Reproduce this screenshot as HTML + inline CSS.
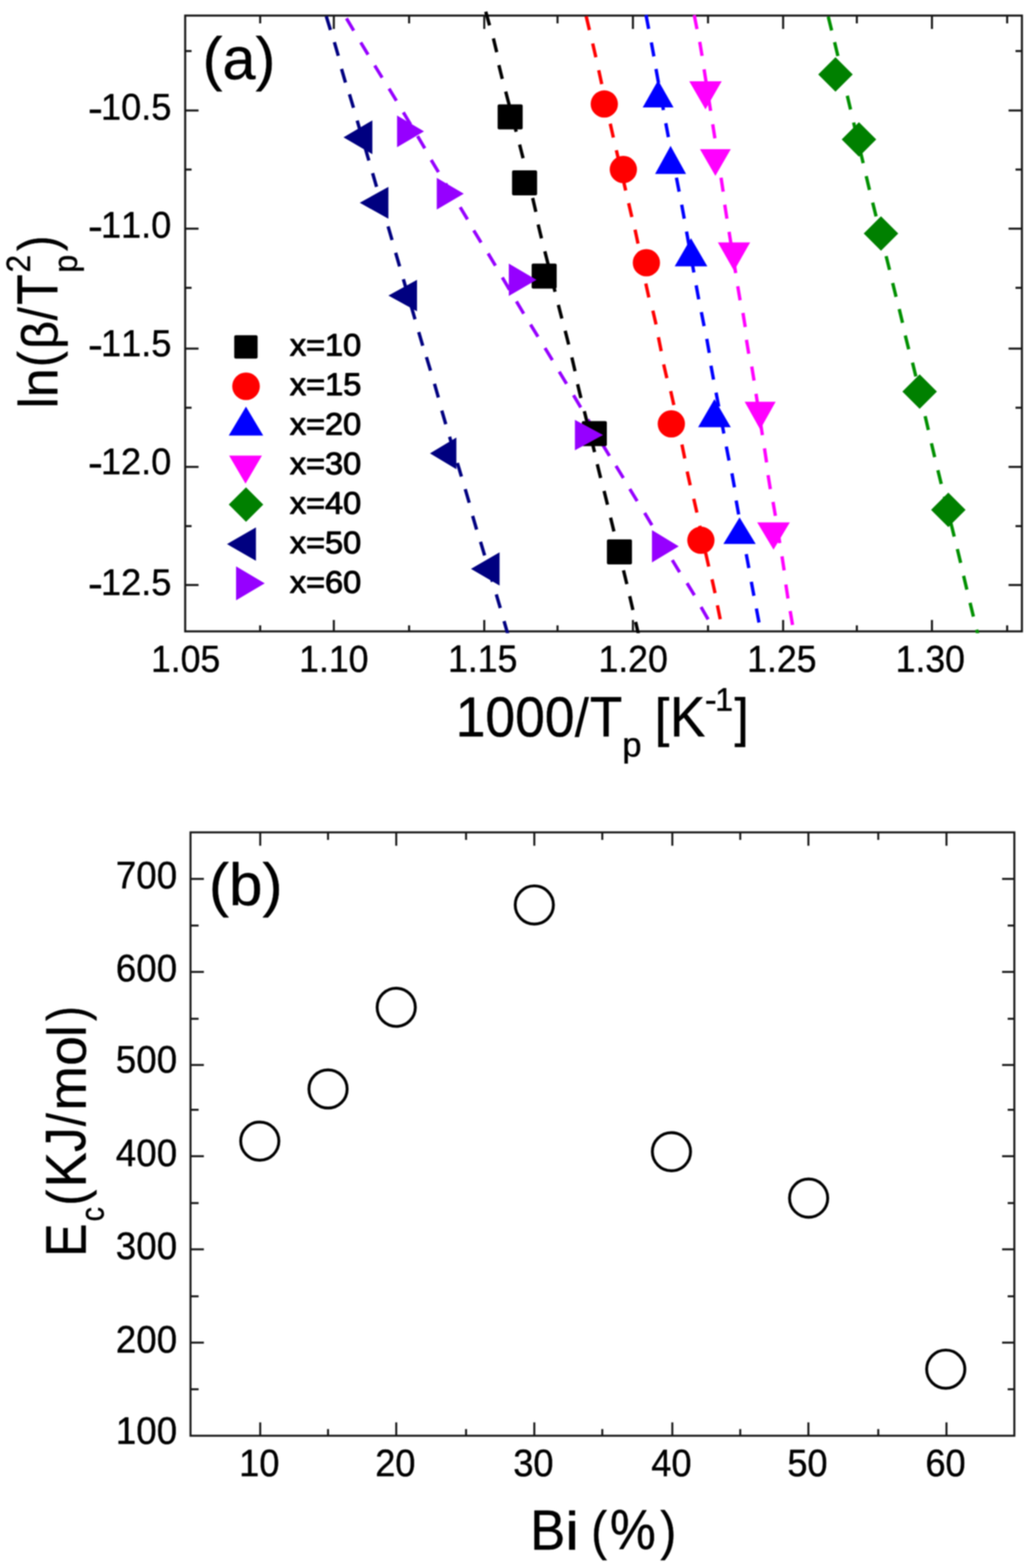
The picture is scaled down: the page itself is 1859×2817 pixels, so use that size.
<!DOCTYPE html>
<html lang="en">
<head>
<meta charset="utf-8">
<title>Kissinger plot and crystallization activation energy</title>
<style>
html,body{margin:0;padding:0;background:#fff;}
body{width:1859px;height:2817px;overflow:hidden;}
svg{display:block;}
svg text{font-family:"Liberation Sans", sans-serif;fill:#000;stroke:#000;stroke-width:0.7px;stroke-linejoin:round;font-kerning:none;text-rendering:geometricPrecision;white-space:pre;}
svg text.lg{stroke-width:1.7px;}
</style>
</head>
<body>
<svg width="1859" height="2817" viewBox="0 0 1859 2817">
<defs><filter id="soft" x="0" y="0" width="1859" height="2817" filterUnits="userSpaceOnUse" color-interpolation-filters="sRGB"><feGaussianBlur stdDeviation="0.9"/></filter></defs>
<rect x="0" y="0" width="1859" height="2817" fill="#fff"/>
<g id="chart-a" filter="url(#soft)">
<rect x="332.6" y="28.0" width="1502.9" height="1106.3" fill="none" stroke="#161616" stroke-width="3.7"/>
<line x1="599.6" y1="28" x2="599.6" y2="52" stroke="#161616" stroke-width="3.7"/>
<line x1="599.6" y1="1134.3" x2="599.6" y2="1113.8" stroke="#161616" stroke-width="3.7"/>
<line x1="869.8" y1="28" x2="869.8" y2="52" stroke="#161616" stroke-width="3.7"/>
<line x1="869.8" y1="1134.3" x2="869.8" y2="1113.8" stroke="#161616" stroke-width="3.7"/>
<line x1="1136.8" y1="28" x2="1136.8" y2="52" stroke="#161616" stroke-width="3.7"/>
<line x1="1136.8" y1="1134.3" x2="1136.8" y2="1113.8" stroke="#161616" stroke-width="3.7"/>
<line x1="1406.6" y1="28" x2="1406.6" y2="52" stroke="#161616" stroke-width="3.7"/>
<line x1="1406.6" y1="1134.3" x2="1406.6" y2="1113.8" stroke="#161616" stroke-width="3.7"/>
<line x1="1673.9" y1="28" x2="1673.9" y2="52" stroke="#161616" stroke-width="3.7"/>
<line x1="1673.9" y1="1134.3" x2="1673.9" y2="1113.8" stroke="#161616" stroke-width="3.7"/>
<line x1="467.3" y1="28" x2="467.3" y2="42" stroke="#161616" stroke-width="3.7"/>
<line x1="467.3" y1="1134.3" x2="467.3" y2="1123.5" stroke="#161616" stroke-width="3.7"/>
<line x1="734.8" y1="28" x2="734.8" y2="42" stroke="#161616" stroke-width="3.7"/>
<line x1="734.8" y1="1134.3" x2="734.8" y2="1123.5" stroke="#161616" stroke-width="3.7"/>
<line x1="1001.4" y1="28" x2="1001.4" y2="42" stroke="#161616" stroke-width="3.7"/>
<line x1="1001.4" y1="1134.3" x2="1001.4" y2="1123.5" stroke="#161616" stroke-width="3.7"/>
<line x1="1271.7" y1="28" x2="1271.7" y2="42" stroke="#161616" stroke-width="3.7"/>
<line x1="1271.7" y1="1134.3" x2="1271.7" y2="1123.5" stroke="#161616" stroke-width="3.7"/>
<line x1="1539" y1="28" x2="1539" y2="42" stroke="#161616" stroke-width="3.7"/>
<line x1="1539" y1="1134.3" x2="1539" y2="1123.5" stroke="#161616" stroke-width="3.7"/>
<line x1="1809" y1="28" x2="1809" y2="42" stroke="#161616" stroke-width="3.7"/>
<line x1="1809" y1="1134.3" x2="1809" y2="1123.5" stroke="#161616" stroke-width="3.7"/>
<line x1="332.6" y1="198.5" x2="356.6" y2="198.5" stroke="#161616" stroke-width="3.7"/>
<line x1="1835.5" y1="198.5" x2="1811.5" y2="198.5" stroke="#161616" stroke-width="3.7"/>
<line x1="332.6" y1="410.8" x2="356.6" y2="410.8" stroke="#161616" stroke-width="3.7"/>
<line x1="1835.5" y1="410.8" x2="1811.5" y2="410.8" stroke="#161616" stroke-width="3.7"/>
<line x1="332.6" y1="626.3" x2="356.6" y2="626.3" stroke="#161616" stroke-width="3.7"/>
<line x1="1835.5" y1="626.3" x2="1811.5" y2="626.3" stroke="#161616" stroke-width="3.7"/>
<line x1="332.6" y1="838.8" x2="356.6" y2="838.8" stroke="#161616" stroke-width="3.7"/>
<line x1="1835.5" y1="838.8" x2="1811.5" y2="838.8" stroke="#161616" stroke-width="3.7"/>
<line x1="332.6" y1="1051" x2="356.6" y2="1051" stroke="#161616" stroke-width="3.7"/>
<line x1="1835.5" y1="1051" x2="1811.5" y2="1051" stroke="#161616" stroke-width="3.7"/>
<line x1="332.6" y1="91.7" x2="344.1" y2="91.7" stroke="#161616" stroke-width="3.7"/>
<line x1="1835.5" y1="91.7" x2="1824" y2="91.7" stroke="#161616" stroke-width="3.7"/>
<line x1="332.6" y1="304.6" x2="344.1" y2="304.6" stroke="#161616" stroke-width="3.7"/>
<line x1="1835.5" y1="304.6" x2="1824" y2="304.6" stroke="#161616" stroke-width="3.7"/>
<line x1="332.6" y1="517.1" x2="344.1" y2="517.1" stroke="#161616" stroke-width="3.7"/>
<line x1="1835.5" y1="517.1" x2="1824" y2="517.1" stroke="#161616" stroke-width="3.7"/>
<line x1="332.6" y1="732.5" x2="344.1" y2="732.5" stroke="#161616" stroke-width="3.7"/>
<line x1="1835.5" y1="732.5" x2="1824" y2="732.5" stroke="#161616" stroke-width="3.7"/>
<line x1="332.6" y1="945.2" x2="344.1" y2="945.2" stroke="#161616" stroke-width="3.7"/>
<line x1="1835.5" y1="945.2" x2="1824" y2="945.2" stroke="#161616" stroke-width="3.7"/>
<text><tspan x="158.08" y="220.36" font-size="75.52" textLength="26.73" lengthAdjust="spacingAndGlyphs">-</tspan><tspan x="181.37" y="215" font-size="66.81" textLength="126.51" lengthAdjust="spacingAndGlyphs">10.5</tspan></text>
<text><tspan x="158.08" y="432.36" font-size="75.52" textLength="26.73" lengthAdjust="spacingAndGlyphs">-</tspan><tspan x="181.18" y="427" font-size="66.81" textLength="126.51" lengthAdjust="spacingAndGlyphs">11.0</tspan></text>
<text><tspan x="158.08" y="645.06" font-size="75.52" textLength="26.73" lengthAdjust="spacingAndGlyphs">-</tspan><tspan x="181.37" y="639.69" font-size="67.79" textLength="126.51" lengthAdjust="spacingAndGlyphs">11.5</tspan></text>
<text><tspan x="158.08" y="857.06" font-size="75.52" textLength="26.73" lengthAdjust="spacingAndGlyphs">-</tspan><tspan x="181.18" y="851.7" font-size="66.81" textLength="126.51" lengthAdjust="spacingAndGlyphs">12.0</tspan></text>
<text><tspan x="158.08" y="1073.86" font-size="75.52" textLength="26.73" lengthAdjust="spacingAndGlyphs">-</tspan><tspan x="181.37" y="1068.5" font-size="66.81" textLength="126.51" lengthAdjust="spacingAndGlyphs">12.5</tspan></text>
<text><tspan x="271.13" y="1206.59" font-size="67.65" textLength="124.61" lengthAdjust="spacingAndGlyphs">1.05</tspan></text>
<text><tspan x="537.34" y="1206.59" font-size="67.65" textLength="124.61" lengthAdjust="spacingAndGlyphs">1.10</tspan></text>
<text><tspan x="804.73" y="1206.58" font-size="68.65" textLength="124.61" lengthAdjust="spacingAndGlyphs">1.15</tspan></text>
<text><tspan x="1074.94" y="1206.59" font-size="67.65" textLength="124.61" lengthAdjust="spacingAndGlyphs">1.20</tspan></text>
<text><tspan x="1342.03" y="1206.59" font-size="67.65" textLength="124.61" lengthAdjust="spacingAndGlyphs">1.25</tspan></text>
<text><tspan x="1608.64" y="1206.59" font-size="67.65" textLength="124.61" lengthAdjust="spacingAndGlyphs">1.30</tspan></text>
<text><tspan x="363.92" y="142.04" font-size="106.8" textLength="130.66" lengthAdjust="spacingAndGlyphs">(a)</tspan></text>
<text><tspan x="818.44" y="1322.66" font-size="101.55" textLength="213.56" lengthAdjust="spacingAndGlyphs">1000</tspan><tspan x="1032.45" y="1322.5" font-size="97.63" textLength="25.1" lengthAdjust="spacingAndGlyphs">/</tspan><tspan x="1059.6" y="1322.95" font-size="102.47" textLength="58.34" lengthAdjust="spacingAndGlyphs">T</tspan><tspan x="1117.75" y="1358.72" font-size="61.33" textLength="34.5" lengthAdjust="spacingAndGlyphs">p</tspan><tspan> </tspan><tspan x="1175.63" y="1322.18" font-size="96.23" textLength="26.56" lengthAdjust="spacingAndGlyphs">[</tspan><tspan x="1203.23" y="1322.95" font-size="102.47" textLength="63.59" lengthAdjust="spacingAndGlyphs">K</tspan><tspan x="1266.09" y="1278.3" font-size="61" textLength="21.41" lengthAdjust="spacingAndGlyphs">-</tspan><tspan x="1284.44" y="1276.95" font-size="59.01" textLength="32.23" lengthAdjust="spacingAndGlyphs">1</tspan><tspan x="1319.23" y="1322.18" font-size="96.23" textLength="25.58" lengthAdjust="spacingAndGlyphs">]</tspan></text>
<text transform="rotate(-90)"><tspan x="-733.71" y="102.65" font-size="98.4" textLength="19.97" lengthAdjust="spacingAndGlyphs">l</tspan><tspan x="-713.42" y="102.65" font-size="95.71" textLength="51.71" lengthAdjust="spacingAndGlyphs">n</tspan><tspan x="-659.48" y="101.43" font-size="97.68" textLength="28.64" lengthAdjust="spacingAndGlyphs">(</tspan><tspan x="-626.95" y="102.88" font-size="90.44" textLength="50.57" lengthAdjust="spacingAndGlyphs">β</tspan><tspan x="-575.45" y="102.2" font-size="97.77" textLength="23.6" lengthAdjust="spacingAndGlyphs">/</tspan><tspan x="-547.87" y="102.65" font-size="103.64" textLength="54.88" lengthAdjust="spacingAndGlyphs">T</tspan><tspan x="-490.11" y="137.97" font-size="60.12" textLength="32.4" lengthAdjust="spacingAndGlyphs">p</tspan><tspan x="-489.6" y="54.15" font-size="60.72" textLength="31.5" lengthAdjust="spacingAndGlyphs">2</tspan><tspan x="-450.94" y="101.43" font-size="97.68" textLength="27.76" lengthAdjust="spacingAndGlyphs">)</tspan></text>
<clipPath id="ca"><rect x="320" y="19.5" width="1530" height="1118"/></clipPath>
<g clip-path="url(#ca)" fill="none" stroke-width="6" stroke-linecap="butt">
<path stroke="#000080" d="M586.04 29.42L593.56 53.78 M600.57 75.75L607.63 100.25 M613.44 123.86L620.56 148.34 M627.66 169.28L634.94 193.72 M669.23 311.16L676.37 335.64 M697.05 406.75L704.15 431.25 M710.65 454.06L717.75 478.54 M752.09 596.67L759.31 621.13 M765.9 641.5L773.3 665.9 M780.4 689.54L787.4 714.06 M793.52 737.66L800.68 762.14 M835.62 878.76L842.78 903.24 M848.93 926.86L856.07 951.34 M863.12 973.39L870.48 997.81 M891.39 1067.87L898.61 1092.33 M905.36 1115.95L912.44 1140.45 M641.55 216.56L643.34 222.68L645.13 228.8L646.92 234.92L648.71 241.04 M655.39 263.86L657.18 269.98L658.97 276.1L660.76 282.22L662.55 288.34 M683.14 358.96L684.92 365.08L686.7 371.2L688.48 377.32L690.26 383.44 M724.47 501.59L726.25 507.71L728.03 513.83L729.81 519.95L731.6 526.08 M738.3 549.12L740.09 555.25L741.87 561.37L743.65 567.49L745.43 573.61 M807.49 784.72L809.31 790.82L811.13 796.93L812.96 803.04L814.78 809.15 M821.52 831.75L823.34 837.86L825.17 843.97L826.99 850.08L828.81 856.18 M877.25 1020.63L879.08 1026.74L880.9 1032.85L882.72 1038.96L884.55 1045.07"/>
<path stroke="#9600ff" d="M622.28 33.04L635.32 54.96 M647.93 76.27L661.07 98.13 M673.03 117.73L686.37 139.47 M698.8 159.19L712 181.01 M750.02 244.52L762.98 266.48 M774.44 287.37L787.56 309.23 M826.51 372.29L839.69 394.11 M850.91 413.99L864.09 435.81 M876.74 455.37L889.86 477.23 M927.56 541.55L940.64 563.45 M952.92 583.14L966.28 604.86 M978.88 625.2L992.12 647 M1004.43 667.68L1017.57 689.52 M1030.08 710.04L1043.12 731.96 M1081.52 797.18L1094.68 819.02 M1106.35 837.02L1119.65 858.78 M1131.18 878.5L1144.42 900.3 M1157.86 921.55L1170.94 943.45 M1207.5 1006.19L1220.7 1028.01 M1233.97 1047.61L1247.23 1069.39 M1259.12 1090.56L1271.88 1112.64 M724.4 201.86L727.68 207.33L730.95 212.8L734.22 218.27L737.5 223.74 M800.38 329.88L803.72 335.32L807.05 340.75L810.38 346.18L813.72 351.62 M902.23 498.42L905.46 503.91L908.7 509.4L911.94 514.89L915.17 520.38 M1055.86 753.57L1059.11 759.06L1062.35 764.55L1065.59 770.04L1068.84 775.53 M1182.79 963.81L1186.02 969.3L1189.25 974.8L1192.48 980.3L1195.71 985.79"/>
<path stroke="#000000" d="M872.5 21.01L879.3 45.59 M886.21 69.01L892.19 93.79 M896.04 117.02L902.16 141.78 M933.27 259.64L939.53 284.36 M956.73 355.78L962.47 380.62 M966.6 403.41L972.6 428.19 M1002.85 547.65L1009.15 572.35 M1015.16 594.24L1021.44 618.96 M1027.14 642.07L1032.86 666.93 M1037.42 690.2L1043.38 715 M1061.85 787.42L1067.95 812.18 M1072.76 833.92L1078.84 858.68 M1085.02 882.03L1091.18 906.77 M1096.68 930.01L1102.72 954.79 M1119.89 1024.61L1125.91 1049.39 M1131.01 1070.98L1136.79 1095.82 M1141.66 1117.37L1147.34 1142.23 M908.31 164.6L909.92 170.77L911.53 176.93L913.15 183.1L914.76 189.27 M920.74 212.13L922.35 218.3L923.97 224.47L925.58 230.63L927.19 236.8 M945.01 307.71L946.51 313.9L948 320.1L949.49 326.3L950.99 332.49 M978.61 451.5L980.17 457.69L981.73 463.87L983.29 470.05L984.85 476.23 M990.75 499.57L992.31 505.75L993.87 511.93L995.43 518.11L996.99 524.3 M1049.53 738.84L1051.09 745.02L1052.65 751.2L1054.21 757.38L1055.77 763.56 M1108.26 977.32L1109.78 983.51L1111.3 989.7L1112.82 995.89L1114.34 1002.08"/>
<path stroke="#ff0000" d="M1052.86 29.19L1058.74 54.01 M1064.54 78.07L1070.26 102.93 M1075.38 126.14L1080.82 151.06 M1096.09 222.26L1101.71 247.14 M1129.11 364.98L1134.89 389.82 M1140.65 412.73L1145.95 437.67 M1159.94 509.45L1165.46 534.35 M1172.62 558.08L1178.38 582.92 M1182.59 605.9L1187.61 630.9 M1192.02 654.58L1197.78 679.42 M1204.69 702.66L1210.31 727.54 M1224.85 798.61L1229.95 823.59 M1234.25 847.05L1239.75 871.95 M1246.07 896.07L1251.73 920.93 M1267.39 993.06L1273.01 1017.94 M1278.85 1040.75L1284.35 1065.65 M1288.56 1087.5L1293.64 1112.5 M1085.8 174.19L1087.15 180.42L1088.5 186.65L1089.85 192.88L1091.2 199.11 M1107.05 269.85L1108.49 276.06L1109.93 282.27L1111.37 288.48L1112.81 294.69 M1118.09 317.41L1119.53 323.62L1120.97 329.83L1122.41 336.04L1123.85 342.25 M1150.49 461.05L1151.75 467.3L1153 473.55L1154.25 479.8L1155.51 486.05 M1214.86 750.62L1216.16 756.86L1217.45 763.1L1218.74 769.34L1220.04 775.58 M1256.82 944.55L1258.18 950.77L1259.55 957L1260.92 963.23L1262.28 969.45"/>
<path stroke="#0000ff" d="M1160.29 26.88L1165.11 51.92 M1169.9 76.26L1174.5 101.34 M1178.25 123.85L1182.75 148.95 M1195.83 221.37L1200.57 246.43 M1214.96 319.28L1219.84 344.32 M1224.41 367.76L1228.99 392.84 M1250.39 512.66L1255.01 537.74 M1259.73 560.79L1264.67 585.81 M1269.47 608.85L1273.93 633.95 M1277.01 656.96L1281.59 682.04 M1304.57 802.28L1309.43 827.32 M1314.64 850.35L1319.16 875.45 M1322.27 899.25L1326.73 924.35 M1340.36 995.47L1345.04 1020.53 M1349.47 1045.27L1354.13 1070.33 M1358.53 1093.27L1363.27 1118.33 M1187.07 172.61L1188.21 178.88L1189.35 185.15L1190.49 191.42L1191.63 197.69 M1205.35 270.34L1206.57 276.59L1207.8 282.85L1209.03 289.11L1210.25 295.36 M1233.11 416.05L1234.24 422.33L1235.37 428.6L1236.49 434.87L1237.62 441.15 M1241.78 464.35L1242.91 470.63L1244.03 476.9L1245.16 483.17L1246.29 489.45 M1286.15 705.41L1287.34 711.67L1288.53 717.93L1289.73 724.2L1290.92 730.46 M1295.38 753.84L1296.57 760.1L1297.77 766.37L1298.96 772.63L1300.15 778.89 M1331.23 947.37L1332.41 953.64L1333.6 959.9L1334.79 966.16L1335.97 972.43"/>
<path stroke="#ff00ff" d="M1246.93 27.19L1251.87 52.21 M1256.8 75.22L1261 100.38 M1280.13 223.3L1284.07 248.5 M1295.11 319.19L1298.89 344.41 M1301.75 367.7L1305.65 392.9 M1325.08 514.33L1329.32 539.47 M1334.46 562.31L1338.54 587.49 M1340.73 610.42L1344.87 635.58 M1350.22 658.52L1354.38 683.68 M1373.11 805.49L1376.89 830.71 M1379.56 853.61L1383.64 878.79 M1388.46 901.73L1392.74 926.87 M1404.56 999.5L1408.44 1024.7 M1411.49 1050.09L1415.31 1075.31 M1419.29 1097.73L1423.51 1122.87 M1264.66 124.57L1265.65 130.87L1266.63 137.17L1267.62 143.46L1268.61 149.76 M1272.39 173.94L1273.38 180.24L1274.37 186.53L1275.35 192.83L1276.34 199.13 M1287.59 271.25L1288.57 277.55L1289.55 283.85L1290.53 290.15L1291.51 296.45 M1309.52 416.58L1310.52 422.87L1311.53 429.17L1312.54 435.46L1313.55 441.76 M1317.35 465.44L1318.36 471.74L1319.37 478.03L1320.38 484.33L1321.38 490.62 M1357.92 707.5L1358.89 713.8L1359.87 720.1L1360.84 726.4L1361.81 732.7 M1365.49 756.5L1366.46 762.8L1367.43 769.1L1368.41 775.4L1369.38 781.7 M1396.5 950.62L1397.53 956.91L1398.55 963.2L1399.57 969.49L1400.6 975.78"/>
<path stroke="#009000" d="M1487.65 29.92L1493.75 54.68 M1499.02 75.8L1504.98 100.6 M1521.87 171.99L1527.73 196.81 M1555.85 316.4L1561.75 341.2 M1567.41 364.03L1573.59 388.77 M1591.62 460.13L1597.78 484.87 M1603.35 508.42L1609.45 533.18 M1615.12 555.2L1621.08 580 M1626.03 602.83L1632.17 627.57 M1638.97 651.52L1645.03 676.28 M1661.7 747.69L1667.5 772.51 M1672.96 796.39L1678.84 821.21 M1684.56 844.72L1690.64 869.48 M1719.49 986.41L1725.51 1011.19 M1730.76 1034.49L1736.64 1059.31 M1742.39 1083.01L1748.41 1107.79 M1754.17 1131.22L1760.23 1155.98 M1506.97 124.77L1507.83 131.09L1508.95 137.34L1510.99 143.38L1513.02 149.42 M1533.21 220.12L1534.67 226.33L1536.13 232.53L1537.59 238.74L1539.06 244.94 M1544.54 268.26L1546.01 274.46L1547.47 280.67L1548.93 286.87L1550.39 293.08 M1579.49 412.09L1581.04 418.27L1582.6 424.45L1584.16 430.63L1585.71 436.81 M1650.38 699.59L1651.84 705.79L1653.3 712L1654.76 718.21L1656.22 724.41 M1696.18 891.95L1697.71 898.14L1699.23 904.33L1700.76 910.52L1702.28 916.71 M1707.82 939.19L1709.34 945.38L1710.87 951.57L1712.39 957.76L1713.92 963.95"/>
</g>
<rect x="893.8" y="187.4" width="45" height="45" rx="3" fill="#000"/>
<rect x="919.7" y="305.9" width="45" height="45" rx="3" fill="#000"/>
<rect x="954.9" y="473.5" width="45" height="45" rx="3" fill="#000"/>
<rect x="1045" y="756.5" width="45" height="45" rx="3" fill="#000"/>
<rect x="1090.1" y="968.9" width="45" height="45" rx="3" fill="#000"/>
<circle cx="1085.4" cy="186.8" r="24.5" fill="#f00"/>
<circle cx="1119.6" cy="304.5" r="24.5" fill="#f00"/>
<circle cx="1161" cy="472" r="24.5" fill="#f00"/>
<circle cx="1205.8" cy="761.5" r="24.5" fill="#f00"/>
<circle cx="1258.9" cy="970.6" r="24.5" fill="#f00"/>
<polygon points="1154.4,193.1 1209.8,193.1 1182.1,144.3" fill="#00f"/>
<polygon points="1176.6,312.5 1232.3,312.5 1204.45,262.1" fill="#00f"/>
<polygon points="1211.8,478.6 1270.5,478.6 1241.15,428" fill="#00f"/>
<polygon points="1253.9,767.5 1312.6,767.5 1283.25,717" fill="#00f"/>
<polygon points="1299.3,977.3 1357.4,977.3 1328.35,929.5" fill="#00f"/>
<polygon points="1238,146 1296.3,146 1267.15,196.5" fill="#f0f"/>
<polygon points="1257.2,268 1312.6,268 1284.9,316" fill="#f0f"/>
<polygon points="1289.4,435.5 1347.4,435.5 1318.4,486.5" fill="#f0f"/>
<polygon points="1337.5,721.7 1393.2,721.7 1365.35,771.5" fill="#f0f"/>
<polygon points="1360,938.5 1418.7,938.5 1389.35,987.5" fill="#f0f"/>
<polygon points="1469.6,133.7 1500.6,102.7 1531.6,133.7 1500.6,164.7" fill="#008000"/>
<polygon points="1511.8,250.6 1542.8,219.6 1573.8,250.6 1542.8,281.6" fill="#008000"/>
<polygon points="1551.4,419.5 1582.4,388.5 1613.4,419.5 1582.4,450.5" fill="#008000"/>
<polygon points="1620.8,703.5 1651.8,672.5 1682.8,703.5 1651.8,734.5" fill="#008000"/>
<polygon points="1672.3,916 1703.3,885 1734.3,916 1703.3,947" fill="#008000"/>
<polygon points="668.8,216.3 668.8,277 617,246.65" fill="#000080"/>
<polygon points="697.6,335.7 697.6,393 646.2,364.35" fill="#000080"/>
<polygon points="749,502.8 749,559.2 697.6,531" fill="#000080"/>
<polygon points="819.7,785.9 819.7,843 772.3,814.45" fill="#000080"/>
<polygon points="897.3,992.2 897.3,1051.9 845.9,1022.05" fill="#000080"/>
<polygon points="713.2,207.4 713.2,264.4 761.6,235.9" fill="#9600ff"/>
<polygon points="784.5,319.5 784.5,376.5 833,348" fill="#9600ff"/>
<polygon points="913.9,473.6 913.9,531.7 963.6,502.65" fill="#9600ff"/>
<polygon points="1032.6,754.2 1032.6,809 1083.1,781.6" fill="#9600ff"/>
<polygon points="1171,952.4 1171,1010.4 1219.1,981.4" fill="#9600ff"/>
<rect x="420.7" y="602.2" width="42" height="42" rx="3" fill="#000"/>
<circle cx="441.9" cy="694" r="24.8" fill="#f00"/>
<polygon points="410.8,782.6 472.8,782.6 441.8,730.6" fill="#00f"/>
<polygon points="411.5,818.6 470.5,818.6 441,869.1" fill="#f0f"/>
<polygon points="410.9,906.4 441.9,875.4 472.9,906.4 441.9,937.4" fill="#008000"/>
<polygon points="459.7,947.5 459.7,1007.5 407.7,977.5" fill="#000080"/>
<polygon points="424,1017.5 424,1078.5 475.5,1048" fill="#9600ff"/>
<text class="lg"><tspan x="520.49" y="639.3" font-size="56.07" textLength="128.34" lengthAdjust="spacingAndGlyphs">x=10</tspan></text>
<text class="lg"><tspan x="520.49" y="710.19" font-size="56.9" textLength="128.51" lengthAdjust="spacingAndGlyphs">x=15</tspan></text>
<text class="lg"><tspan x="520.49" y="781.1" font-size="56.07" textLength="128.34" lengthAdjust="spacingAndGlyphs">x=20</tspan></text>
<text class="lg"><tspan x="520.49" y="852" font-size="56.07" textLength="128.34" lengthAdjust="spacingAndGlyphs">x=30</tspan></text>
<text class="lg"><tspan x="520.49" y="922.9" font-size="56.07" textLength="128.34" lengthAdjust="spacingAndGlyphs">x=40</tspan></text>
<text class="lg"><tspan x="520.49" y="993.8" font-size="56.07" textLength="128.34" lengthAdjust="spacingAndGlyphs">x=50</tspan></text>
<text class="lg"><tspan x="520.49" y="1064.7" font-size="56.07" textLength="128.34" lengthAdjust="spacingAndGlyphs">x=60</tspan></text>
</g>
<g id="chart-b" filter="url(#soft)">
<rect x="342.2" y="1495.4" width="1479.7" height="1084" fill="none" stroke="#161616" stroke-width="3.6"/>
<line x1="467.4" y1="1495.4" x2="467.4" y2="1519.4" stroke="#161616" stroke-width="3.6"/>
<line x1="467.4" y1="2579.4" x2="467.4" y2="2555.4" stroke="#161616" stroke-width="3.6"/>
<line x1="711.7" y1="1495.4" x2="711.7" y2="1519.4" stroke="#161616" stroke-width="3.6"/>
<line x1="711.7" y1="2579.4" x2="711.7" y2="2555.4" stroke="#161616" stroke-width="3.6"/>
<line x1="959.7" y1="1495.4" x2="959.7" y2="1519.4" stroke="#161616" stroke-width="3.6"/>
<line x1="959.7" y1="2579.4" x2="959.7" y2="2555.4" stroke="#161616" stroke-width="3.6"/>
<line x1="1207.6" y1="1495.4" x2="1207.6" y2="1519.4" stroke="#161616" stroke-width="3.6"/>
<line x1="1207.6" y1="2579.4" x2="1207.6" y2="2555.4" stroke="#161616" stroke-width="3.6"/>
<line x1="1452" y1="1495.4" x2="1452" y2="1519.4" stroke="#161616" stroke-width="3.6"/>
<line x1="1452" y1="2579.4" x2="1452" y2="2555.4" stroke="#161616" stroke-width="3.6"/>
<line x1="1700" y1="1495.4" x2="1700" y2="1519.4" stroke="#161616" stroke-width="3.6"/>
<line x1="1700" y1="2579.4" x2="1700" y2="2555.4" stroke="#161616" stroke-width="3.6"/>
<line x1="589.2" y1="1495.4" x2="589.2" y2="1508.9" stroke="#161616" stroke-width="3.6"/>
<line x1="589.2" y1="2579.4" x2="589.2" y2="2567.4" stroke="#161616" stroke-width="3.6"/>
<line x1="837.1" y1="1495.4" x2="837.1" y2="1508.9" stroke="#161616" stroke-width="3.6"/>
<line x1="837.1" y1="2579.4" x2="837.1" y2="2567.4" stroke="#161616" stroke-width="3.6"/>
<line x1="1081.8" y1="1495.4" x2="1081.8" y2="1508.9" stroke="#161616" stroke-width="3.6"/>
<line x1="1081.8" y1="2579.4" x2="1081.8" y2="2567.4" stroke="#161616" stroke-width="3.6"/>
<line x1="1329.6" y1="1495.4" x2="1329.6" y2="1508.9" stroke="#161616" stroke-width="3.6"/>
<line x1="1329.6" y1="2579.4" x2="1329.6" y2="2567.4" stroke="#161616" stroke-width="3.6"/>
<line x1="1577.5" y1="1495.4" x2="1577.5" y2="1508.9" stroke="#161616" stroke-width="3.6"/>
<line x1="1577.5" y1="2579.4" x2="1577.5" y2="2567.4" stroke="#161616" stroke-width="3.6"/>
<line x1="342.2" y1="1579" x2="366.2" y2="1579" stroke="#161616" stroke-width="3.6"/>
<line x1="1821.9" y1="1579" x2="1799.9" y2="1579" stroke="#161616" stroke-width="3.6"/>
<line x1="342.2" y1="1746.1" x2="366.2" y2="1746.1" stroke="#161616" stroke-width="3.6"/>
<line x1="1821.9" y1="1746.1" x2="1799.9" y2="1746.1" stroke="#161616" stroke-width="3.6"/>
<line x1="342.2" y1="1913.3" x2="366.2" y2="1913.3" stroke="#161616" stroke-width="3.6"/>
<line x1="1821.9" y1="1913.3" x2="1799.9" y2="1913.3" stroke="#161616" stroke-width="3.6"/>
<line x1="342.2" y1="2077.2" x2="366.2" y2="2077.2" stroke="#161616" stroke-width="3.6"/>
<line x1="1821.9" y1="2077.2" x2="1799.9" y2="2077.2" stroke="#161616" stroke-width="3.6"/>
<line x1="342.2" y1="2244.5" x2="366.2" y2="2244.5" stroke="#161616" stroke-width="3.6"/>
<line x1="1821.9" y1="2244.5" x2="1799.9" y2="2244.5" stroke="#161616" stroke-width="3.6"/>
<line x1="342.2" y1="2412.1" x2="366.2" y2="2412.1" stroke="#161616" stroke-width="3.6"/>
<line x1="1821.9" y1="2412.1" x2="1799.9" y2="2412.1" stroke="#161616" stroke-width="3.6"/>
<line x1="342.2" y1="1662.8" x2="356.7" y2="1662.8" stroke="#161616" stroke-width="3.6"/>
<line x1="1821.9" y1="1662.8" x2="1809.9" y2="1662.8" stroke="#161616" stroke-width="3.6"/>
<line x1="342.2" y1="1830.3" x2="356.7" y2="1830.3" stroke="#161616" stroke-width="3.6"/>
<line x1="1821.9" y1="1830.3" x2="1809.9" y2="1830.3" stroke="#161616" stroke-width="3.6"/>
<line x1="342.2" y1="1993.8" x2="356.7" y2="1993.8" stroke="#161616" stroke-width="3.6"/>
<line x1="1821.9" y1="1993.8" x2="1809.9" y2="1993.8" stroke="#161616" stroke-width="3.6"/>
<line x1="342.2" y1="2161.4" x2="356.7" y2="2161.4" stroke="#161616" stroke-width="3.6"/>
<line x1="1821.9" y1="2161.4" x2="1809.9" y2="2161.4" stroke="#161616" stroke-width="3.6"/>
<line x1="342.2" y1="2328.9" x2="356.7" y2="2328.9" stroke="#161616" stroke-width="3.6"/>
<line x1="1821.9" y1="2328.9" x2="1809.9" y2="2328.9" stroke="#161616" stroke-width="3.6"/>
<line x1="342.2" y1="2495.9" x2="356.7" y2="2495.9" stroke="#161616" stroke-width="3.6"/>
<line x1="1821.9" y1="2495.9" x2="1809.9" y2="2495.9" stroke="#161616" stroke-width="3.6"/>
<text><tspan x="208.05" y="1596.38" font-size="68.93" textLength="110.08" lengthAdjust="spacingAndGlyphs">700</tspan></text>
<text><tspan x="208.05" y="1763.48" font-size="68.93" textLength="110.08" lengthAdjust="spacingAndGlyphs">600</tspan></text>
<text><tspan x="208.05" y="1927.28" font-size="68.93" textLength="110.08" lengthAdjust="spacingAndGlyphs">500</tspan></text>
<text><tspan x="208.05" y="2094.98" font-size="68.93" textLength="110.08" lengthAdjust="spacingAndGlyphs">400</tspan></text>
<text><tspan x="208.05" y="2262.38" font-size="68.93" textLength="110.08" lengthAdjust="spacingAndGlyphs">300</tspan></text>
<text><tspan x="208.05" y="2430.18" font-size="68.93" textLength="110.08" lengthAdjust="spacingAndGlyphs">200</tspan></text>
<text><tspan x="208.05" y="2593.58" font-size="68.93" textLength="110.08" lengthAdjust="spacingAndGlyphs">100</tspan></text>
<text><tspan x="429.59" y="2651.68" font-size="68.64" textLength="72.3" lengthAdjust="spacingAndGlyphs">10</tspan></text>
<text><tspan x="673.89" y="2651.68" font-size="68.64" textLength="72.3" lengthAdjust="spacingAndGlyphs">20</tspan></text>
<text><tspan x="921.89" y="2651.68" font-size="68.64" textLength="72.3" lengthAdjust="spacingAndGlyphs">30</tspan></text>
<text><tspan x="1169.79" y="2651.68" font-size="68.64" textLength="72.3" lengthAdjust="spacingAndGlyphs">40</tspan></text>
<text><tspan x="1414.19" y="2651.68" font-size="68.64" textLength="72.3" lengthAdjust="spacingAndGlyphs">50</tspan></text>
<text><tspan x="1662.19" y="2651.68" font-size="68.64" textLength="72.3" lengthAdjust="spacingAndGlyphs">60</tspan></text>
<circle cx="466.6" cy="2050.1" r="34.3" fill="none" stroke="#000" stroke-width="5.2"/>
<circle cx="589.2" cy="1956.4" r="34.3" fill="none" stroke="#000" stroke-width="5.2"/>
<circle cx="711.7" cy="1809.7" r="34.3" fill="none" stroke="#000" stroke-width="5.2"/>
<circle cx="959.7" cy="1625.8" r="34.3" fill="none" stroke="#000" stroke-width="5.2"/>
<circle cx="1206" cy="2069.1" r="34.3" fill="none" stroke="#000" stroke-width="5.2"/>
<circle cx="1452.4" cy="2152.5" r="34.3" fill="none" stroke="#000" stroke-width="5.2"/>
<circle cx="1698.7" cy="2459.8" r="34.3" fill="none" stroke="#000" stroke-width="5.2"/>
<text><tspan x="375.35" y="1625.66" font-size="106.69" textLength="132.11" lengthAdjust="spacingAndGlyphs">(b)</tspan></text>
<text><tspan x="952.2" y="2783.75" font-size="101.89" textLength="63.04" lengthAdjust="spacingAndGlyphs">B</tspan><tspan x="1015.14" y="2783.75" font-size="96.74" textLength="25.28" lengthAdjust="spacingAndGlyphs">i</tspan><tspan> </tspan><tspan x="1061.72" y="2783.13" font-size="96.71" textLength="28.64" lengthAdjust="spacingAndGlyphs">(</tspan><tspan x="1095.45" y="2783.46" font-size="101.47" textLength="82.41" lengthAdjust="spacingAndGlyphs">%</tspan><tspan x="1185.95" y="2783.13" font-size="96.71" textLength="28.64" lengthAdjust="spacingAndGlyphs">)</tspan></text>
<text transform="rotate(-90)"><tspan x="-2258.02" y="153.85" font-size="102.91" textLength="59.93" lengthAdjust="spacingAndGlyphs">E</tspan><tspan x="-2194.24" y="185.97" font-size="59.32" textLength="25.74" lengthAdjust="spacingAndGlyphs">c</tspan><tspan x="-2165.91" y="153.11" font-size="97.78" textLength="28.76" lengthAdjust="spacingAndGlyphs">(</tspan><tspan x="-2133.33" y="153.85" font-size="102.91" textLength="63.24" lengthAdjust="spacingAndGlyphs">K</tspan><tspan x="-2069.53" y="153.45" font-size="102.33" textLength="44.01" lengthAdjust="spacingAndGlyphs">J</tspan><tspan x="-2023.25" y="153.4" font-size="97.09" textLength="23.4" lengthAdjust="spacingAndGlyphs">/</tspan><tspan x="-1995.21" y="153.85" font-size="96.82" textLength="79.77" lengthAdjust="spacingAndGlyphs">m</tspan><tspan x="-1914.77" y="153.61" font-size="96.38" textLength="53.24" lengthAdjust="spacingAndGlyphs">o</tspan><tspan x="-1863.37" y="153.85" font-size="97.71" textLength="21.49" lengthAdjust="spacingAndGlyphs">l</tspan><tspan x="-1834.32" y="153.11" font-size="97.78" textLength="26.5" lengthAdjust="spacingAndGlyphs">)</tspan></text>
</g>
</svg>
</body>
</html>
